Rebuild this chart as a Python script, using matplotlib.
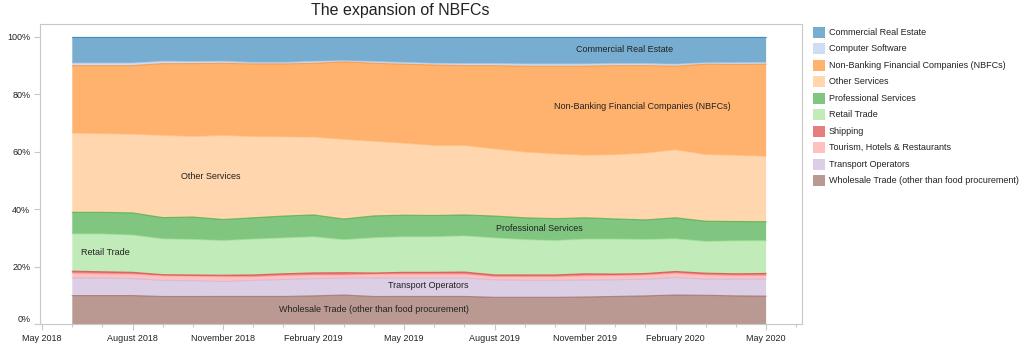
import numpy as np
import matplotlib.pyplot as plt
from matplotlib.patches import Rectangle

plt.rcParams['font.family'] = ['Liberation Sans', 'DejaVu Sans']

# monthly data, Jun 2018 .. May 2020 (share of credit, %)
months = ['Jun 2018', 'Jul 2018', 'Aug 2018', 'Sep 2018', 'Oct 2018', 'Nov 2018',
          'Dec 2018', 'Jan 2019', 'Feb 2019', 'Mar 2019', 'Apr 2019', 'May 2019',
          'Jun 2019', 'Jul 2019', 'Aug 2019', 'Sep 2019', 'Oct 2019', 'Nov 2019',
          'Dec 2019', 'Jan 2020', 'Feb 2020', 'Mar 2020', 'Apr 2020', 'May 2020']

wholesale = [9.9, 9.9, 9.9, 9.6, 9.6, 9.6, 9.6, 9.6, 9.8, 10.1, 9.6, 9.6,
             9.6, 9.6, 9.3, 9.3, 9.3, 9.4, 9.6, 9.8, 10.1, 10.0, 9.8, 9.7]
transport = [6.1, 6.1, 5.9, 5.6, 5.5, 5.2, 5.6, 5.9, 6.0, 5.9, 6.4, 6.4,
             6.4, 6.4, 6.1, 5.9, 5.9, 5.9, 5.8, 5.8, 6.1, 5.6, 5.8, 5.9]
tourism = [1.7, 1.5, 1.6, 1.6, 1.6, 1.7, 1.3, 1.4, 1.3, 1.1, 1.4, 1.4,
           1.4, 1.4, 1.1, 1.3, 1.3, 1.5, 1.5, 1.5, 1.5, 1.5, 1.3, 1.3]
shipping = [0.7, 0.7, 0.6, 0.4, 0.4, 0.5, 0.6, 0.6, 0.7, 0.8, 0.4, 0.6,
            0.6, 0.7, 0.6, 0.6, 0.6, 0.7, 0.5, 0.5, 0.6, 0.6, 0.6, 0.7]
retail = [13.0, 13.2, 13.0, 12.5, 12.4, 12.1, 12.5, 12.5, 12.6, 11.5, 12.3, 12.4,
          12.4, 12.6, 12.9, 12.3, 12.0, 12.1, 12.2, 11.9, 11.4, 11.1, 11.5, 11.4]
professional = [7.5, 7.5, 7.7, 7.4, 7.8, 7.3, 7.4, 7.6, 7.6, 7.2, 7.6, 7.5,
                7.4, 7.3, 7.6, 7.6, 7.6, 7.4, 7.0, 6.8, 7.3, 7.0, 6.7, 6.6]
other = [27.6, 27.4, 27.4, 28.7, 28.1, 29.3, 28.3, 27.6, 27.1, 27.8, 26.0, 25.1,
         24.4, 24.2, 23.4, 22.9, 22.6, 21.8, 22.4, 23.3, 23.7, 23.2, 23.1, 22.8]
nbfc = [23.5, 23.7, 23.9, 25.0, 25.4, 25.1, 25.3, 25.4, 25.7, 27.0, 27.2, 27.5,
        28.0, 27.8, 29.0, 29.9, 30.5, 31.0, 31.0, 30.5, 29.1, 31.5, 31.6, 32.0]
software = [0.9, 0.9, 0.9, 0.8, 0.7, 0.7, 0.5, 0.5, 0.7, 0.4, 0.6, 0.6,
            0.6, 0.7, 0.7, 0.8, 0.8, 0.8, 0.7, 0.7, 0.7, 0.5, 0.6, 0.6]
real_estate = [9.1, 9.1, 9.1, 8.5, 8.6, 8.5, 8.9, 8.9, 8.5, 8.3, 8.6, 8.9,
               9.2, 9.3, 9.3, 9.4, 9.4, 9.4, 9.3, 9.3, 9.5, 9.0, 9.0, 8.9]

names = ['Wholesale Trade (other than food procurement)', 'Transport Operators',
         'Tourism, Hotels & Restaurants', 'Shipping', 'Retail Trade',
         'Professional Services', 'Other Services',
         'Non-Banking Financial Companies (NBFCs)', 'Computer Software',
         'Commercial Real Estate']
colors = ['#8c564b', '#c5b0d5', '#ff9896', '#d62728', '#98df8a',
          '#2ca02c', '#ffbb78', '#ff7f0e', '#aec7e8', '#1f77b4']

tick_labels = ['May 2018', 'August 2018', 'November 2018', 'February 2019', 'May 2019',
               'August 2019', 'November 2019', 'February 2020', 'May 2020']

shares = np.array([wholesale, transport, tourism, shipping, retail,
                   professional, other, nbfc, software, real_estate])
shares = shares / shares.sum(axis=0) * 100
x = np.arange(1, len(months) + 1)  # months after May 2018

W, H = 1024, 350
fig = plt.figure(figsize=(W / 100, H / 100), dpi=100)
ax = fig.add_axes([40 / W, 1 - 324 / H, (802 - 40) / W, 300 / H])

ax.stackplot(x, shares, colors=colors, alpha=0.6, linewidth=0)
tops = np.cumsum(shares, axis=0)
for c, top in zip(colors, tops):
    ax.plot(x, top, color=c, lw=0.8, alpha=0.6)

ax.set_xlim(-0.07, 25.19)
ax.set_ylim(0, 104.5)

ax.set_xticks(np.arange(0, 25, 3))
ax.set_xticklabels(tick_labels)
ax.set_xticks(np.arange(0, 26, 1), minor=True)
ax.set_yticks(np.arange(0, 101, 20))
ax.set_yticklabels([f'{v}%' for v in range(0, 101, 20)])
ax.get_yticklabels()[0].set_verticalalignment('bottom')

ax.tick_params(axis='both', which='major', length=4, width=0.8, color='#c8c8c8',
               labelsize=6.5, labelcolor='#222222', pad=3)
ax.tick_params(axis='x', which='minor', length=2, width=0.8, color='#c8c8c8')
for s in ax.spines.values():
    s.set_color('#c8c8c8')
    s.set_linewidth(0.8)

# labels inside the bands
lab = dict(fontsize=6.5, color='#222222', ha='center', va='center')
ax.text(19.3, 95.6, 'Commercial Real Estate', **lab)
ax.text(19.9, 75.6, 'Non-Banking Financial Companies (NBFCs)', **lab)
ax.text(5.6, 51.5, 'Other Services', **lab)
ax.text(16.5, 33.3, 'Professional Services', **lab)
ax.text(2.1, 24.9, 'Retail Trade', **lab)
ax.text(12.8, 13.4, 'Transport Operators', **lab)
ax.text(11.0, 5.1, 'Wholesale Trade (other than food procurement)', **lab)

fig.text(400 / W, 1 - 11 / H, 'The expansion of NBFCs', ha='center', va='center',
         fontsize=11.5, color='#222222')

# legend on the right
for i, (name, c) in enumerate(zip(names[::-1], colors[::-1])):
    cy = 32.3 + i * 16.5
    fig.patches.append(Rectangle((813 / W, 1 - (cy + 5.5) / H), 12 / W, 11 / H,
                                 transform=fig.transFigure, facecolor=c,
                                 alpha=0.6, edgecolor='none'))
    fig.text(829 / W, 1 - cy / H, name, ha='left', va='center',
             fontsize=6.5, color='#222222')

fig.savefig('out.png', dpi=100)
